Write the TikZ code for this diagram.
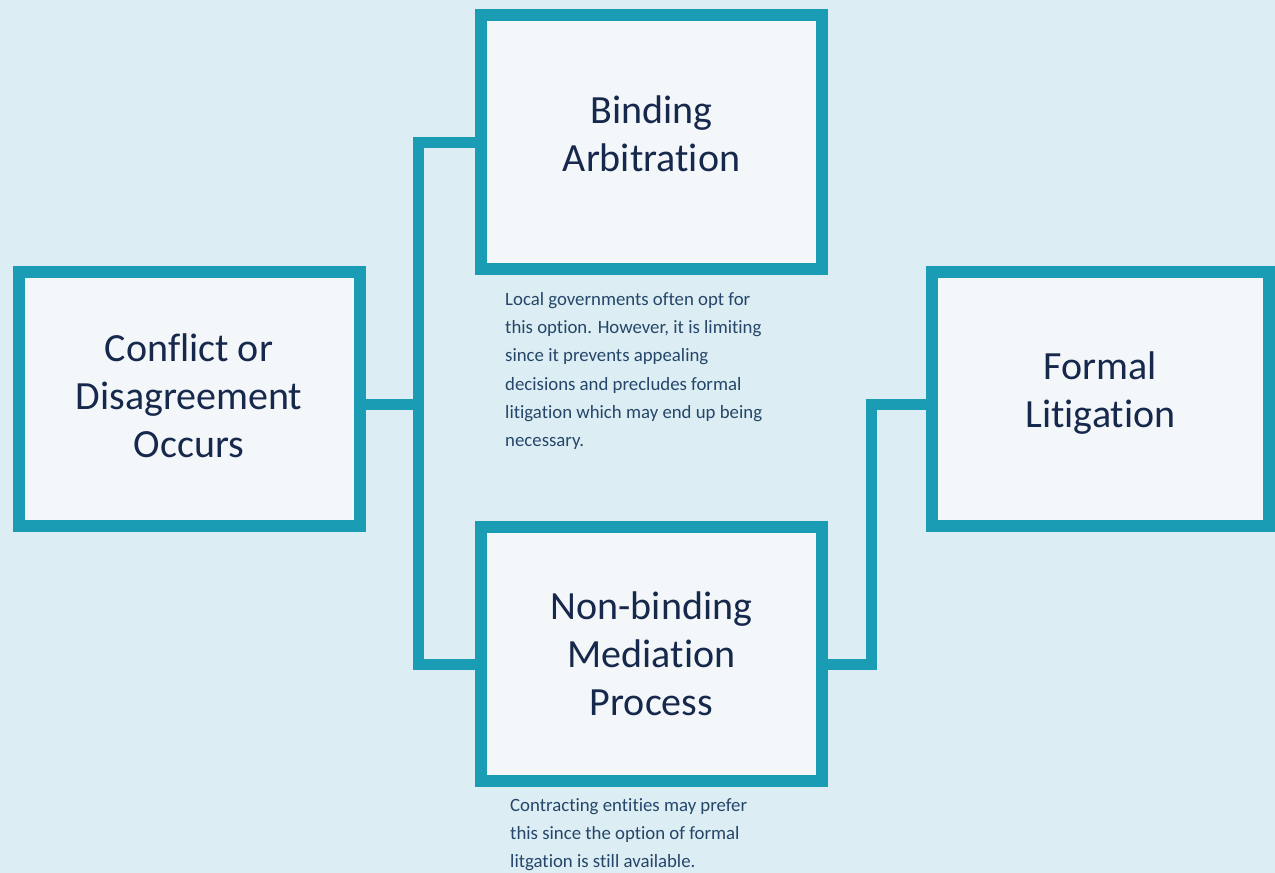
\documentclass[tikz,border=0pt]{standalone}
\usepackage{fontspec}
\setmainfont{Carlito}[Ligatures=NoCommon]
\definecolor{bgc}{HTML}{DCEEF3}
\definecolor{boxfill}{HTML}{F3F7FA}
\definecolor{edgec}{HTML}{1B9CB5}
\definecolor{navy}{HTML}{16284B}
\definecolor{desc}{HTML}{25466A}
\newcommand{\lift}[1]{\rule[-#1]{0pt}{0pt}}
\begin{document}
\begin{tikzpicture}[x=1pt,y=-1pt,
  stagebox/.style={draw=edgec, fill=boxfill, line width=12pt, rectangle,
    minimum width=341pt, minimum height=254pt, inner sep=0pt, outer sep=0pt,
    align=center, text=navy, font=\fontsize{40}{48}\selectfont},
  link/.style={draw=edgec, line width=11pt, line join=miter},
  note/.style={anchor=north west, inner sep=0pt, align=left, text=desc,
    font=\fontsize{18.8}{28.3}\selectfont}]
\useasboundingbox[fill=bgc] (0,0) rectangle (1275,873);
% junction points
\coordinate (j1) at (418,142);
\coordinate (j2) at (418,664);
\coordinate (j3) at (418,404);
\coordinate (k1) at (871,664);
\coordinate (k2) at (871,404);
% connectors
\draw[link] (481,142) -- (j1) -- (j2) -- (481,664);
\draw[link] (360,404) -- (j3);
\draw[link] (822,664) -- (k1) -- (k2) -- (932,404);
% boxes
\node[stagebox] (conf) at (189,399) {Conflict or\\Disagreement\\Occurs\lift{6pt}};
\node[stagebox] (bind) at (651.5,142) {Binding\\Arbitration\lift{16pt}};
\node[stagebox] (med) at (651.5,654) {Non-binding\\Mediation\\Process};
\node[stagebox, minimum width=337pt] (form) at (1100.5,399) {Formal\\Litigation\lift{18pt}};
% notes
\node[note] (n1) at (505,292) {Local governments often opt for\\this option. However, it is limiting\\since it prevents appealing\\decisions and precludes formal\\litigation which may end up being\\necessary.};
\node[note] (n2) at (510,798) {Contracting entities may prefer\\this since the option of formal\\litgation is still available.};
\end{tikzpicture}
\end{document}
